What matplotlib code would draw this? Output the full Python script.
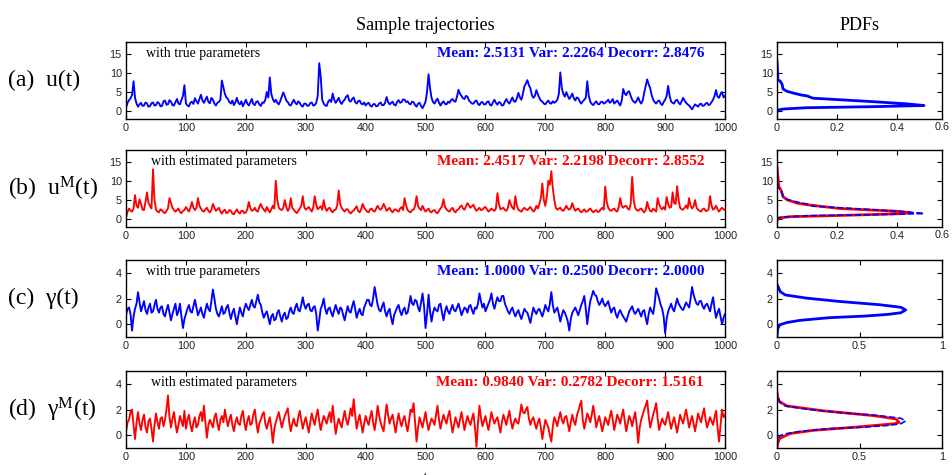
import numpy as np
import matplotlib
matplotlib.use("Agg")
import matplotlib.pyplot as plt

plt.rcParams['font.family'] = ['Liberation Sans', 'DejaVu Sans']
plt.rcParams['mathtext.fontset'] = 'custom'
plt.rcParams['mathtext.rm'] = 'Liberation Serif'
plt.rcParams['mathtext.it'] = 'Liberation Serif:italic'

SERIF = ['Liberation Serif', 'DejaVu Serif']

# ---------------- sample trajectories (t = 0, 2.5, ..., 1000) ----------------
t = np.arange(0, 1000.1, 2.5)

u_true = [
    1.0, 2.2, 2.9, 3.4, 4.2, 7.8, 3.5, 2.0, 1.2, 1.8, 2.2, 1.4, 1.5, 2.3, 2.0, 1.2, 1.3, 2.1, 2.3, 1.5,
    1.6, 2.4, 2.1, 1.3, 1.4, 2.6, 2.8, 1.7, 1.8, 2.9, 2.5, 1.6, 1.5, 2.4, 3.2, 2.0, 1.8, 3.0, 4.0, 6.8,
    2.0, 1.5, 1.3, 2.2, 2.5, 1.9, 3.4, 2.6, 2.0, 3.2, 4.3, 2.8, 2.2, 3.0, 3.8, 2.4, 2.1, 3.5, 3.0, 2.0,
    1.5, 2.2, 2.4, 3.0, 8.0, 6.2, 4.5, 3.6, 3.2, 2.4, 2.0, 2.8, 1.6, 2.3, 3.5, 2.2, 1.8, 2.6, 1.3, 2.1,
    3.0, 2.0, 1.5, 2.4, 3.2, 1.9, 1.6, 2.5, 2.6, 1.8, 1.4, 2.3, 2.2, 3.0, 5.0, 3.6, 8.8, 4.5, 3.2, 2.4,
    3.0, 2.2, 1.8, 2.7, 3.8, 4.9, 4.0, 2.8, 2.4, 1.7, 1.5, 2.3, 3.0, 2.2, 1.8, 2.6, 2.2, 1.5, 1.2, 2.0,
    2.0, 1.4, 1.5, 2.1, 2.3, 1.5, 1.6, 2.2, 4.0, 12.5, 9.0, 3.0, 2.0, 1.5, 1.4, 2.5, 3.0, 2.4, 4.6, 3.0,
    2.2, 2.8, 3.5, 2.4, 1.9, 2.6, 3.0, 3.8, 4.2, 2.8, 2.5, 3.2, 3.6, 2.4, 2.0, 2.6, 2.8, 2.0, 1.8, 2.3,
    1.5, 2.0, 2.2, 1.5, 1.2, 1.8, 1.9, 1.3, 1.4, 2.0, 2.3, 1.6, 1.6, 2.2, 3.7, 2.4, 1.8, 2.2, 2.5, 1.7,
    1.5, 2.4, 2.9, 2.2, 2.4, 3.1, 3.0, 2.4, 2.6, 2.0, 1.8, 2.5, 2.4, 1.6, 1.2, 2.0, 2.2, 1.4, 0.8, 1.6,
    2.5, 5.0, 9.6, 6.0, 3.5, 2.4, 2.0, 2.8, 3.3, 2.2, 1.5, 2.2, 2.6, 1.9, 1.8, 2.5, 2.2, 2.9, 3.2, 2.6,
    2.5, 3.8, 5.6, 4.6, 4.0, 3.4, 3.2, 4.0, 3.8, 2.8, 2.4, 2.0, 2.0, 2.6, 2.8, 1.9, 1.6, 2.3, 2.4, 1.8,
    1.8, 2.4, 2.6, 1.7, 1.5, 2.3, 3.0, 2.2, 1.7, 2.4, 2.2, 1.5, 1.6, 2.5, 3.2, 2.4, 2.0, 2.8, 3.6, 2.6,
    2.5, 3.4, 4.8, 3.6, 3.0, 4.5, 6.5, 7.2, 8.1, 6.8, 6.0, 4.2, 3.5, 4.0, 5.5, 4.4, 3.5, 2.8, 2.5, 2.0,
    1.8, 2.4, 2.8, 2.1, 2.0, 2.6, 2.2, 2.5, 3.0, 4.5, 10.1, 6.0, 4.5, 3.8, 5.0, 4.0, 3.2, 3.8, 4.6, 3.4,
    2.8, 3.6, 3.4, 2.5, 2.0, 2.6, 3.0, 3.5, 7.8, 4.0, 2.5, 1.9, 1.6, 2.2, 2.6, 1.9, 1.8, 2.4, 2.5, 2.0,
    2.2, 2.6, 3.0, 2.2, 2.5, 3.2, 2.0, 2.4, 2.8, 2.1, 1.5, 2.8, 5.8, 4.6, 4.2, 5.0, 5.2, 4.0, 3.0, 2.5,
    2.2, 2.8, 3.6, 2.6, 2.0, 2.8, 4.8, 6.5, 8.3, 7.0, 6.0, 4.2, 3.0, 2.4, 2.0, 2.6, 2.8, 2.0, 1.6, 2.4,
    3.0, 4.0, 6.6, 4.0, 2.5, 2.2, 2.0, 2.8, 3.0, 2.2, 1.8, 2.6, 3.5, 2.8, 2.2, 1.8, 1.5, 1.0, 0.5, 1.2,
    1.8, 1.5, 1.2, 1.8, 2.0, 1.4, 1.5, 2.0, 2.2, 1.6, 1.8, 2.4, 3.0, 4.0, 5.5, 3.8, 3.5, 4.5, 5.0, 3.6,
    4.0,
]

u_model = [
    0.5, 2.0, 2.8, 2.2, 2.0, 2.8, 6.3, 3.5, 3.0, 5.2, 4.0, 2.5, 2.4, 4.5, 7.0, 4.2, 3.5, 2.8, 13.0, 5.0,
    2.5, 2.0, 1.8, 2.6, 2.4, 1.8, 1.6, 2.2, 2.8, 5.5, 4.2, 3.0, 2.4, 2.0, 2.4, 2.8, 1.9, 1.6, 2.2, 2.4,
    3.2, 2.6, 2.0, 3.0, 4.5, 3.0, 2.4, 3.0, 5.5, 3.6, 2.8, 2.2, 2.0, 2.6, 3.0, 2.2, 1.8, 2.5, 4.0, 3.0,
    2.2, 2.6, 3.0, 2.0, 1.5, 2.2, 2.5, 1.6, 1.8, 2.4, 2.2, 1.5, 1.3, 2.0, 2.6, 1.8, 1.5, 2.2, 2.2, 1.6,
    1.8, 2.6, 4.5, 3.0, 2.2, 2.4, 3.0, 2.2, 2.0, 3.2, 4.0, 3.0, 2.5, 2.0, 3.2, 2.4, 1.8, 2.6, 3.5, 2.8,
    10.0, 5.0, 3.0, 2.6, 2.4, 3.0, 5.0, 3.2, 2.2, 2.8, 5.5, 3.0, 2.5, 2.0, 1.6, 2.2, 2.8, 3.5, 6.0, 3.2,
    2.5, 2.8, 3.2, 2.6, 2.0, 3.0, 6.0, 3.8, 2.6, 3.0, 3.4, 2.5, 5.0, 3.0, 2.2, 2.8, 3.0, 2.2, 1.8, 2.4,
    2.5, 3.5, 7.5, 4.0, 3.0, 2.4, 2.0, 2.6, 2.6, 1.9, 1.5, 2.0, 2.3, 2.8, 3.4, 2.2, 1.8, 2.6, 4.0, 3.0,
    2.5, 2.0, 1.8, 2.6, 2.8, 2.2, 2.0, 2.8, 3.5, 2.8, 2.5, 3.0, 4.0, 3.2, 2.2, 2.6, 3.0, 2.2, 1.8, 2.4,
    2.6, 2.2, 2.0, 2.8, 3.2, 2.4, 5.5, 3.6, 2.4, 2.0, 1.8, 2.4, 2.5, 3.4, 6.0, 3.5, 2.8, 2.4, 3.5, 2.6,
    2.0, 2.4, 2.8, 2.0, 1.8, 2.3, 2.4, 1.8, 1.6, 2.2, 2.8, 3.4, 5.2, 3.2, 2.6, 2.2, 2.0, 2.6, 3.0, 2.2,
    1.8, 2.4, 2.6, 3.2, 3.6, 2.8, 2.5, 3.4, 4.2, 3.6, 3.0, 3.4, 3.8, 2.8, 2.2, 2.6, 3.0, 2.4, 2.5, 3.0,
    3.2, 2.6, 2.0, 2.4, 2.8, 2.4, 2.2, 2.8, 6.8, 4.0, 2.6, 2.8, 3.0, 2.4, 2.2, 3.0, 5.0, 3.8, 3.0, 2.6,
    6.0, 3.5, 2.5, 2.2, 2.0, 2.6, 3.0, 2.6, 2.4, 2.8, 3.2, 2.6, 2.0, 2.4, 3.5, 2.8, 4.0, 5.5, 9.3, 5.0,
    3.5, 6.0, 10.0, 9.0, 12.5, 8.0, 5.0, 3.0, 2.5, 2.8, 3.0, 2.4, 2.2, 2.8, 3.5, 2.8, 2.5, 3.0, 4.2, 3.0,
    2.2, 2.6, 2.8, 2.2, 1.8, 2.2, 2.6, 2.0, 2.0, 2.5, 2.8, 2.2, 1.8, 2.2, 2.4, 1.9, 2.0, 2.6, 3.0, 2.5,
    8.5, 4.5, 3.0, 2.4, 2.2, 2.6, 2.8, 2.2, 2.0, 3.2, 5.5, 3.5, 3.0, 3.4, 3.5, 2.8, 2.5, 4.0, 11.0, 5.0,
    3.0, 2.4, 2.2, 2.6, 2.8, 2.2, 1.8, 2.4, 4.5, 3.0, 2.2, 2.0, 2.8, 2.4, 2.0, 5.5, 4.0, 3.0, 2.6, 3.2,
    2.5, 5.8, 4.0, 3.0, 3.2, 7.0, 4.2, 4.0, 8.6, 5.0, 3.0, 2.6, 2.5, 3.0, 3.6, 2.8, 5.5, 3.5, 2.8, 3.4,
    5.0, 3.0, 2.5, 2.2, 2.0, 2.6, 2.8, 2.2, 2.2, 2.6, 6.0, 3.5, 2.5, 2.8, 3.5, 2.6, 2.0, 2.6, 3.0, 2.6,
    2.4,
]

g_true = [
    0.7, 1.2, 1.3, 0.8, -0.5, 0.6, 1.2, 1.6, 2.5, 1.7, 1.0, 1.4, 1.8, 1.1, 0.8, 1.3, 1.6, 0.9, 1.0, 1.5,
    1.9, 1.2, 0.9, 1.3, 1.4, 0.8, 0.6, 1.1, 1.5, 0.9, 0.3, 0.8, 1.2, 1.6, 0.7, 1.0, 1.6, 0.6, -0.3, 0.4,
    0.8, 1.2, 1.5, 1.0, 0.9, 1.4, 1.9, 1.3, 0.7, 1.0, 1.3, 0.8, 0.5, 1.1, 1.6, 1.2, 1.0, 1.8, 2.7, 2.0,
    1.2, 0.8, 0.6, 1.0, 1.4, 0.8, 0.9, 1.3, 1.5, 0.9, 0.4, 0.9, 1.2, 0.6, 0.0, 0.7, 1.3, 0.9, 0.6, 1.2,
    1.6, 1.3, 1.1, 1.5, 1.9, 1.4, 1.3, 1.8, 2.3, 1.7, 1.5, 0.9, 0.5, 0.8, 1.0, 0.5, 0.0, 0.6, 0.8, 0.3,
    0.4, 0.9, 1.1, 0.6, 0.2, 0.7, 0.9, 0.4, 0.5, 1.0, 1.3, 0.9, 0.8, 1.3, 1.6, 1.1, 1.0, 1.5, 2.1, 1.5,
    1.2, 1.5, 1.6, 1.1, 1.0, 1.3, 1.4, 0.8, -0.5, 0.3, 1.2, 1.5, 2.0, 1.2, 0.8, 1.2, 1.3, 0.9, 0.6, 1.1,
    1.5, 1.1, 0.8, 1.3, 1.2, 0.7, 0.3, 0.9, 1.4, 1.0, 0.9, 1.4, 1.8, 1.2, 0.5, 0.9, 1.2, 0.8, 0.7, 1.3,
    1.6, 1.9, 1.9, 1.5, 1.4, 2.0, 2.9, 2.2, 1.5, 1.1, 1.0, 1.4, 1.7, 1.0, 0.6, 1.0, 1.2, 0.5, 0.0, 0.7,
    1.0, 1.3, 1.5, 1.0, 0.7, 1.1, 1.3, 0.8, 0.9, 1.5, 2.2, 1.6, 1.5, 1.9, 1.8, 1.3, 1.0, 1.7, 2.4, 1.4,
    -0.3, 0.8, 2.3, 1.0, 0.2, 0.9, 1.3, 1.1, 1.0, 1.5, 1.6, 0.9, 0.3, 1.0, 1.4, 1.0, 0.8, 1.2, 1.5, 1.1,
    1.0, 1.3, 1.6, 1.2, 0.7, 1.0, 1.3, 1.2, 0.9, 1.4, 1.5, 1.1, 0.8, 1.3, 1.2, 1.6, 2.4, 1.8, 1.3, 1.6,
    1.0, 1.3, 1.6, 1.9, 2.4, 1.6, 1.2, 1.7, 2.1, 1.8, 1.8, 2.2, 2.2, 1.6, 1.3, 1.0, 0.8, 1.1, 1.3, 0.9,
    0.6, 0.9, 1.1, 0.7, 0.4, 0.8, 1.2, 1.0, 0.9, 0.5, 0.1, 0.7, 1.3, 1.0, 0.8, 1.1, 1.2, 0.9, 0.6, 1.0,
    1.5, 1.2, 1.0, 1.6, 2.5, 1.5, 0.9, 1.1, 1.3, 0.8, 0.2, 0.7, 1.1, 0.9, 0.6, 0.2, -0.5, 0.4, 0.9, 1.1,
    1.3, 1.0, 0.7, 1.1, 1.5, 1.8, 2.2, 1.2, 0.0, 1.0, 1.8, 2.2, 2.6, 2.3, 2.2, 1.8, 1.5, 1.7, 2.0, 1.6,
    1.4, 1.6, 1.8, 1.3, 0.9, 1.2, 1.3, 0.8, 0.5, 0.9, 1.1, 0.8, 0.6, 0.4, 0.2, 0.6, 1.0, 1.2, 1.4, 1.0,
    0.8, 1.0, 1.2, 0.9, 0.6, 1.0, 1.1, 0.5, 0.0, 0.8, 1.3, 1.0, 0.8, 1.6, 2.8, 2.4, 2.0, 1.5, 1.2, 0.6,
    -0.7, 0.4, 1.0, 1.3, 1.6, 1.2, 1.0, 1.5, 2.0, 1.6, 1.4, 1.2, 1.1, 1.4, 1.7, 1.5, 1.3, 2.0, 2.9, 2.3,
    1.9, 1.6, 1.5, 1.8, 1.8, 1.4, 1.2, 1.5, 1.6, 1.3, 1.0, 1.6, 2.1, 1.2, 0.5, 0.9, 1.2, 0.6, 0.0, 0.5,
    0.8,
]

g_model = [
    0.3, 1.0, 1.2, 1.8, 2.0, 0.8, -0.3, 1.0, 1.8, 0.9, 0.4, 1.2, 1.6, 0.6, 0.2, 1.1, 1.3, 0.5, -0.5, 0.8,
    1.7, 1.0, 0.5, 1.3, 1.4, 0.7, 1.2, 2.0, 3.1, 1.4, 0.6, 1.3, 1.8, 0.9, 0.2, 0.8, 1.5, 1.1, 0.7, 1.9,
    0.5, 1.2, 1.6, 0.8, 0.3, 1.0, 1.4, 0.6, 0.8, 1.5, 1.8, 1.1, 2.3, 1.0, -0.2, 0.8, 1.2, 0.9, 0.6, 1.4,
    1.7, 0.9, 0.4, 1.2, 1.5, 1.0, 2.0, 1.3, 0.7, 1.2, 1.6, 0.8, 0.3, 1.0, 1.4, 0.9, 0.8, 1.5, 1.9, 1.0,
    0.4, 1.1, 1.5, 0.8, 0.9, 1.6, 2.0, 1.0, 0.2, 0.9, 1.2, 1.6, 1.8, 0.9, 0.5, 1.0, 1.4, 0.6, -0.6, 0.5,
    1.0, 1.4, 1.8, 1.2, 0.6, 1.1, 1.5, 1.8, 2.1, 1.0, 0.3, 0.9, 1.3, 0.8, 0.7, 1.4, 1.9, 1.2, 0.5, 1.0,
    1.4, 0.8, 0.2, 1.0, 1.7, 1.2, 0.8, 1.5, 2.0, 1.1, 0.4, 1.0, 1.5, 1.2, 0.9, 1.4, 1.8, 1.0, 2.3, 1.2,
    0.1, 0.8, 1.3, 0.9, 0.6, 1.3, 1.9, 1.2, 0.8, 1.4, 2.1, 1.5, 2.8, 1.6, 0.5, 1.1, 1.6, 0.9, 0.2, 0.9,
    1.5, 1.1, 0.8, 1.4, 1.9, 1.0, 0.4, 1.2, 2.3, 1.5, 1.0, 0.6, 0.3, 1.4, 2.4, 1.6, 0.9, 1.3, 1.6, 0.9,
    0.2, 1.0, 1.7, 1.1, 0.7, 1.2, 1.5, 0.8, 0.3, 1.1, 2.0, 1.8, 2.5, 1.0, -0.5, 0.6, 1.4, 1.0, 0.6, 1.2,
    1.8, 1.0, 0.4, 0.9, 1.3, 1.1, 0.8, 1.6, 2.3, 1.2, 0.5, 1.1, 1.6, 1.2, 0.9, 1.5, 1.9, 1.0, 0.2, 0.8,
    1.4, 1.0, 0.6, 1.2, 1.8, 1.1, 0.4, 1.0, 1.5, 1.1, 0.8, 1.3, 1.7, 0.6, -0.9, 0.9, 2.3, 1.4, 0.7, 1.1,
    1.5, 0.9, 0.4, 1.1, 1.8, 1.3, 0.9, 1.2, 1.4, 0.8, 0.2, 1.0, 1.6, 1.2, 0.8, 1.4, 1.9, 1.1, 0.5, 1.0,
    1.3, 1.0, 0.9, 1.6, 2.4, 1.8, 1.7, 2.0, 2.2, 1.3, 0.8, 1.2, 1.4, 0.9, 0.5, 1.0, 1.3, 0.6, -0.3, 0.5,
    1.2, 0.9, 0.6, 0.0, -0.5, 0.7, 1.4, 1.1, 0.7, 1.3, 1.8, 1.2, 0.9, 1.4, 1.5, 0.9, 0.3, 1.0, 1.6, 1.1,
    0.8, 1.5, 1.9, 2.3, 2.7, 1.2, 0.5, 1.1, 1.7, 1.4, 1.0, 1.6, 2.3, 1.5, 0.6, 1.1, 1.5, 0.9, 0.3, 0.8,
    1.4, 1.1, 0.8, 1.4, 1.9, 1.2, 0.4, 1.0, 1.6, 1.3, 0.9, 1.5, 2.0, 1.1, 0.3, 0.9, 1.5, 1.2, 0.7, 1.3,
    1.8, 0.8, -0.6, 0.6, 1.2, 1.6, 2.0, 2.3, 2.7, 1.5, 0.6, 1.1, 1.6, 2.0, 2.5, 1.3, 0.4, 0.9, 1.3, 1.0,
    0.8, 1.3, 1.8, 1.1, 0.5, 1.0, 1.4, 0.8, 0.2, 0.9, 1.6, 1.2, 0.9, 1.5, 2.0, 1.3, 0.6, 1.1, 1.5, 0.9,
    0.3, 1.0, 1.7, 1.3, 1.0, 1.6, 2.1, 1.2, 0.6, 1.0, 1.4, 1.1, 0.8, 1.4, 1.9, 0.6, -0.5, 0.8, 2.0, 1.4,
    1.6,
]

# ---------------- estimated PDFs (density, value) ----------------
pdf_u_val = [-0.25, 0.34, 0.6, 0.93, 1.2, 1.5, 1.95, 2.5, 3.0, 3.4, 4.0, 4.2, 4.7, 5.2, 5.8, 7.0, 7.8, 8.2, 10.0, 12.9]
pdf_u_den = [0.0, 0.003, 0.022, 0.10, 0.32, 0.49, 0.43, 0.32, 0.21, 0.12, 0.10, 0.083, 0.056, 0.033, 0.02, 0.017, 0.011, 0.003, 0.002, 0.0]

pdf_um_val = [-0.4, 0.35, 0.68, 1.0, 1.45, 1.7, 2.1, 2.5, 2.8, 3.8, 4.2, 5.1, 5.9, 7.6, 8.5, 13.5]
pdf_um_den = [0.0, 0.006, 0.044, 0.21, 0.41, 0.444, 0.40, 0.29, 0.21, 0.10, 0.067, 0.033, 0.02, 0.013, 0.006, 0.0]

pdf_g_val = [-0.89, -0.38, -0.05, 0.13, 0.3, 0.51, 0.63, 0.76, 0.89, 1.11, 1.32, 1.52, 1.77, 2.03, 2.28, 2.53, 3.0]
pdf_g_den = [0.0, 0.004, 0.016, 0.06, 0.14, 0.32, 0.53, 0.67, 0.75, 0.78, 0.75, 0.62, 0.38, 0.18, 0.05, 0.02, 0.004]

pdf_gm_val = [-1.0, -0.63, -0.25, 0.13, 0.38, 0.63, 0.89, 1.0, 1.27, 1.52, 1.9, 2.28, 2.66, 3.3]
pdf_gm_den = [0.0, 0.004, 0.016, 0.08, 0.22, 0.48, 0.71, 0.74, 0.72, 0.59, 0.28, 0.06, 0.01, 0.0]

row_labels = ["(a)  u(t)", "(b)  u$^{\\mathregular{M}}$(t)", "(c)  γ(t)", "(d)  γ$^{\\mathregular{M}}$(t)"]
notes = ["with true parameters", "with estimated parameters", "with true parameters", "with estimated parameters"]
stats = ["Mean: 2.5131 Var: 2.2264 Decorr: 2.8476",
         "Mean: 2.4517 Var: 2.2198 Decorr: 2.8552",
         "Mean: 1.0000 Var: 0.2500 Decorr: 2.0000",
         "Mean: 0.9840 Var: 0.2782 Decorr: 1.5161"]

BLUE = (0, 0, 1)
RED = (1, 0, 0)

fig = plt.figure(figsize=(9.52, 4.75), dpi=100)

bottoms = [0.7495, 0.5221, 0.2905, 0.0568]
h = 0.162
ts_left, ts_w = 0.1324, 0.6292
pdf_left, pdf_w = 0.8162, 0.1733


def style(ax):
    ax.tick_params(direction='in', length=3.5, width=0.8, top=True, right=True,
                   labelsize=7.8, labelcolor='#222222', pad=3)
    for s in ax.spines.values():
        s.set_linewidth(1.0)


series = [(u_true, BLUE), (u_model, RED), (g_true, BLUE), (g_model, RED)]
for i, (vals, col) in enumerate(series):
    ax = fig.add_axes([ts_left, bottoms[i], ts_w, h])
    ax.plot(t, vals, color=col, lw=1.35)
    ax.set_xlim(0, 1000)
    ax.set_xticks(np.arange(0, 1001, 100))
    if i < 2:
        ax.set_ylim(-2, 18)
        ax.set_yticks([0, 5, 10, 15])
    else:
        ax.set_ylim(-1, 5)
        ax.set_yticks([0, 2, 4])
    style(ax)
    note_x = 0.033 if i % 2 == 0 else 0.041
    ax.text(note_x, 0.85, notes[i], transform=ax.transAxes, family=SERIF,
            fontsize=10, va='center', ha='left', color='black')
    ax.text(0.965, 0.85, stats[i], transform=ax.transAxes, family=SERIF,
            fontsize=11, fontweight='bold', va='center', ha='right', color=col)
    if i == 0:
        ax.set_title("Sample trajectories", family=SERIF, fontsize=13, pad=9)

    axp = fig.add_axes([pdf_left, bottoms[i], pdf_w, h])
    if i == 0:
        axp.plot(pdf_u_den, pdf_u_val, color=BLUE, lw=2)
    elif i == 1:
        axp.plot(pdf_um_den, pdf_um_val, color=RED, lw=2)
        axp.plot(pdf_u_den, pdf_u_val, color=BLUE, lw=1.2, ls='--')
    elif i == 2:
        axp.plot(pdf_g_den, pdf_g_val, color=BLUE, lw=2)
    else:
        axp.plot(pdf_gm_den, pdf_gm_val, color=RED, lw=2)
        axp.plot(pdf_g_den, pdf_g_val, color=BLUE, lw=1.2, ls='--')
    if i < 2:
        axp.set_xlim(0, 0.55)
        axp.set_xticks([0, 0.2, 0.4])
        axp.set_xticklabels(['0', '0.2', '0.4'])
        axp.text(1.0, -0.045, '0.6', transform=axp.transAxes,
                 ha='center', va='top', fontsize=7.8, color='#222222', clip_on=False)
        axp.set_ylim(-2, 18)
        axp.set_yticks([0, 5, 10, 15])
    else:
        axp.set_xlim(0, 1)
        axp.set_xticks([0, 0.5, 1])
        axp.set_xticklabels(['0', '0.5', '1'])
        axp.set_ylim(-1, 5)
        axp.set_yticks([0, 2, 4])
    style(axp)
    if i == 0:
        axp.set_title("PDFs", family=SERIF, fontsize=13, pad=9)

    yc = bottoms[i] + h / 2
    fig.text(0.008, yc, row_labels[i], family=SERIF, fontsize=17, va='center', ha='left')

fig.text(0.447, 0.008, "t", family=SERIF, fontsize=13, ha='center', va='top')

fig.savefig("out.png", dpi=100)
